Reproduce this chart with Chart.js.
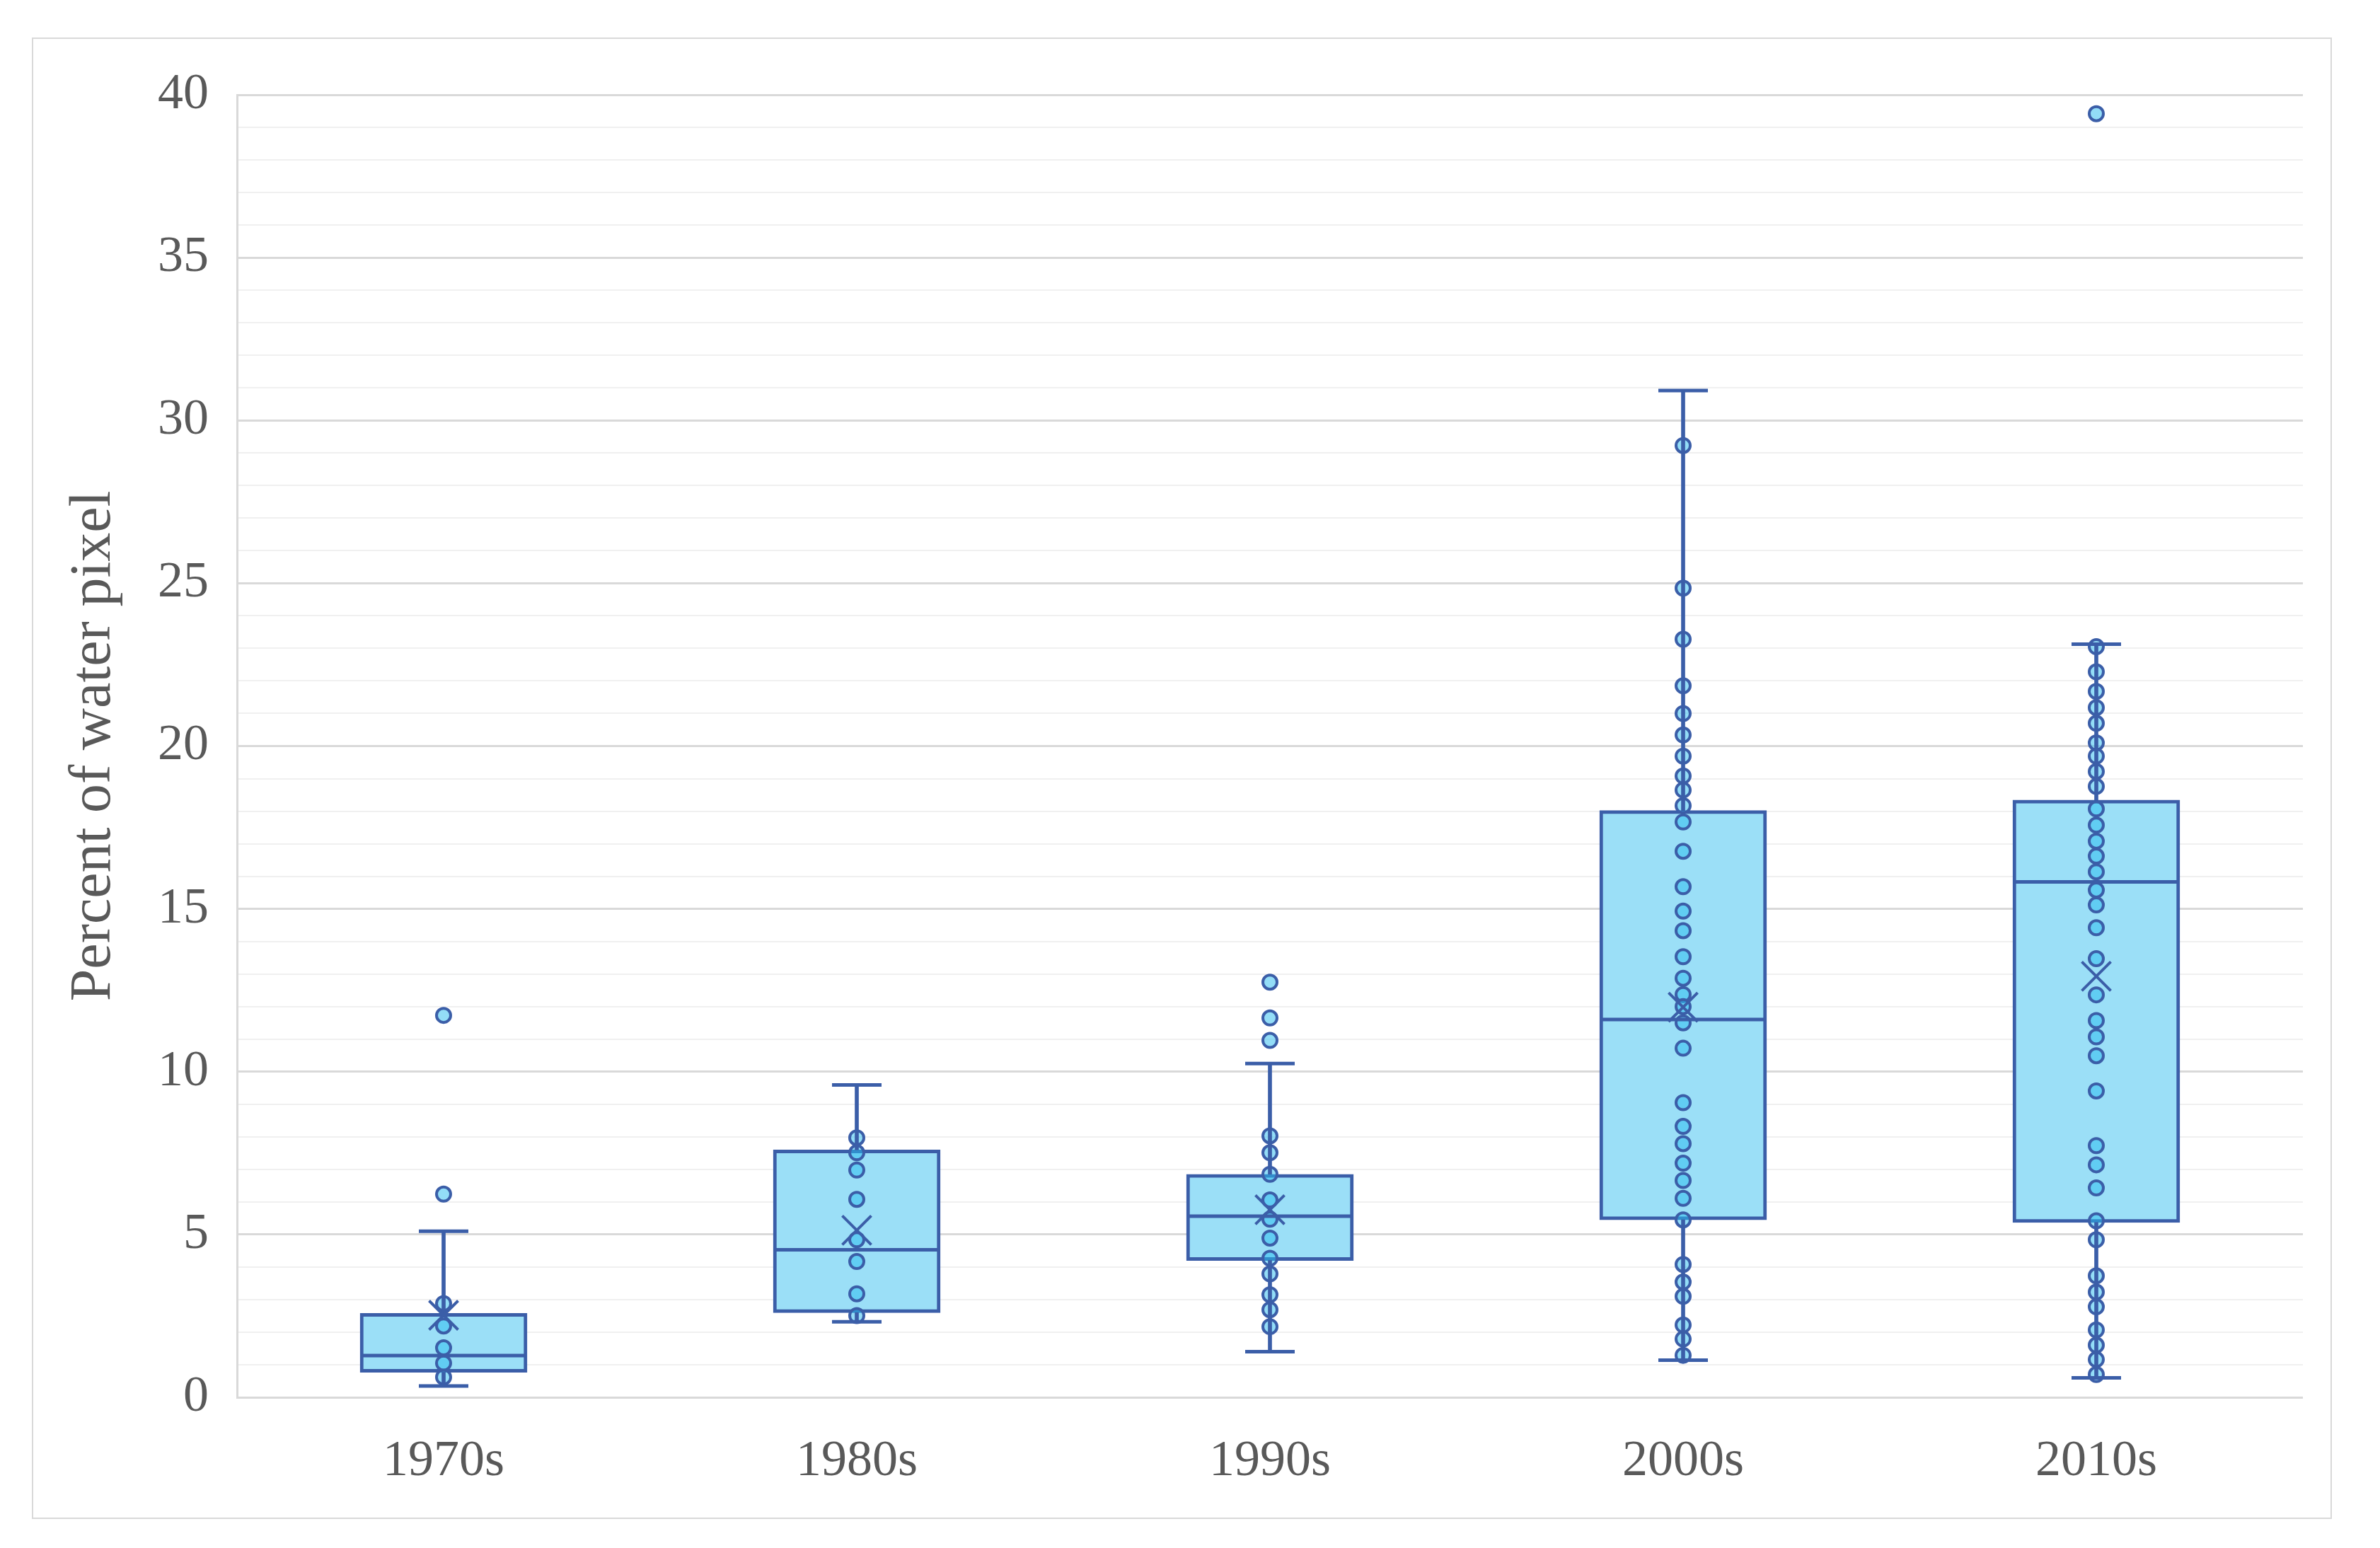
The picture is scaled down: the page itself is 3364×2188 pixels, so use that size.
<!DOCTYPE html>
<html>
<head>
<meta charset="utf-8">
<script src="https://cdn.jsdelivr.net/npm/chart.js@4.4.1/dist/chart.umd.min.js"></script>
<style>
  html, body { margin: 0; padding: 0; background: #ffffff; }
  #wrap { position: relative; width: 3364px; height: 2188px; }
  #frame { position: absolute; left: 45px; top: 53px; width: 3247px; height: 2090px; border: 2px solid #d9d9d9; pointer-events: none; }
  canvas { position: absolute; left: 0; top: 0; }
</style>
</head>
<body>
<div id="wrap">
  <canvas id="c" width="3364" height="2188"></canvas>
  <div id="frame"></div>
</div>
<script>
// ---- data ----
const categories = ['1970s', '1980s', '1990s', '2000s', '2010s'];
const whiskerMin = [0.35, 2.32, 1.40, 1.14, 0.60];
const quartile1  = [0.77, 2.60, 4.20, 5.45, 5.37];
const medians    = [1.28, 4.53, 5.56, 11.60, 15.83];
const quartile3  = [2.58, 7.60, 6.85, 18.02, 18.34];
const whiskerMax = [5.10, 9.59, 10.25, 30.92, 23.13];
const means      = [2.52, 5.13, 5.76, 11.98, 12.93];

const points1970s = [11.73, 6.24, 2.88, 2.19, 1.52, 1.05, 0.62];
const points1980s = [7.97, 7.51, 6.98, 6.08, 4.84, 4.17, 3.18, 2.51];
const points1990s = [12.75, 11.65, 10.96, 8.03, 7.51, 6.85, 6.06, 5.47, 4.89, 4.27, 3.79, 3.15, 2.69, 2.17];
const points2000s = [29.23, 24.85, 23.28, 21.85, 21.00, 20.34, 19.69, 19.08, 18.65, 18.17, 17.67, 16.77, 15.68,
                     14.93, 14.33, 13.53, 12.87, 12.37, 12.00, 11.50, 10.72, 9.05, 8.32, 7.79, 7.19, 6.66, 6.11,
                     5.45, 4.08, 3.54, 3.10, 2.22, 1.79, 1.29];
const points2010s = [39.42, 23.05, 22.28, 21.68, 21.18, 20.70, 20.10, 19.69, 19.22, 18.76, 18.07, 17.57, 17.08,
                     16.62, 16.14, 15.58, 15.12, 14.42, 13.47, 12.36, 11.57, 11.07, 10.49, 9.41, 7.73, 7.14,
                     6.43, 5.42, 4.84, 3.73, 3.23, 2.78, 2.07, 1.60, 1.16, 0.70];
const pointsByCategory = [points1970s, points1980s, points1990s, points2000s, points2010s];

const yTickMin = 0, yTickMax = 40, yMajorStep = 5;
const yTitle = 'Percent of water pixel';

// ---- styles ----
const dark = '#3b5ea8';
const boxFill = 'rgb(155,223,247)';
const pointFill = 'rgba(40,188,240,0.5)';
const textColor = '#595959';
const fontFamily = '"Liberation Serif", "Times New Roman", serif';

const scatterPoints = [];
pointsByCategory.forEach((arr, i) => arr.forEach(v => scatterPoints.push({ x: categories[i], y: v })));
const capPoints = [];
categories.forEach((c, i) => { capPoints.push({ x: c, y: whiskerMin[i] }); capPoints.push({ x: c, y: whiskerMax[i] }); });

new Chart(document.getElementById('c'), {
  type: 'bar',
  data: {
    labels: categories,
    datasets: [
      {
        type: 'bar', label: 'box', order: 10, grouped: false,
        data: categories.map((c, i) => [quartile1[i], quartile3[i]]),
        backgroundColor: boxFill, borderColor: dark, borderWidth: 5, borderSkipped: false,
        barThickness: 236
      },
      {
        type: 'line', label: 'points', order: 8, showLine: false,
        data: scatterPoints,
        pointStyle: 'circle', pointRadius: 10, pointBorderWidth: 4,
        pointBackgroundColor: pointFill, pointBorderColor: dark
      },
      {
        type: 'bar', label: 'lower whisker', order: 6, grouped: false,
        data: categories.map((c, i) => [whiskerMin[i], quartile1[i]]),
        backgroundColor: dark, borderWidth: 0, barThickness: 5
      },
      {
        type: 'bar', label: 'upper whisker', order: 6, grouped: false,
        data: categories.map((c, i) => [quartile3[i], whiskerMax[i]]),
        backgroundColor: dark, borderWidth: 0, barThickness: 5
      },
      {
        type: 'line', label: 'caps', order: 5, showLine: false,
        data: capPoints,
        pointStyle: 'line', pointRadius: 35, pointBorderWidth: 5, pointBorderColor: dark
      },
      {
        type: 'line', label: 'median', order: 4, showLine: false,
        data: categories.map((c, i) => ({ x: c, y: medians[i] })),
        pointStyle: 'line', pointRadius: 116, pointBorderWidth: 5, pointBorderColor: dark
      },
      {
        type: 'line', label: 'mean', order: 2, showLine: false,
        data: categories.map((c, i) => ({ x: c, y: means[i] })),
        pointStyle: 'crossRot', pointRadius: 29, pointBorderWidth: 4, pointBorderColor: dark
      }
    ]
  },
  options: {
    responsive: false,
    animation: false,
    events: [],
    layout: { autoPadding: false, padding: { left: 0, top: 134, right: 109, bottom: 63 } },
    plugins: { legend: { display: false }, tooltip: { enabled: false } },
    scales: {
      x: {
        type: 'category',
        offset: true,
        grid: { display: false, drawTicks: false },
        border: { display: false },
        ticks: { color: textColor, font: { family: fontFamily, size: 72 }, padding: 48 },
        afterFit: s => { s.height = 150; s.paddingLeft = 0; s.paddingRight = 0; }
      },
      y: {
        type: 'linear',
        min: yTickMin, max: yTickMax,
        ticks: {
          stepSize: 1,
          autoSkip: false,
          padding: 40,
          color: textColor,
          font: { family: fontFamily, size: 72 },
          callback: v => (v % yMajorStep === 0 ? String(v) : '')
        },
        grid: {
          drawTicks: false,
          color: ctx => (ctx.tick && ctx.tick.value % yMajorStep === 0 ? '#d9d9d9' : '#f0f0f0'),
          lineWidth: ctx => (ctx.tick && ctx.tick.value % yMajorStep === 0 ? 3 : 2)
        },
        border: { display: true, color: '#d9d9d9', width: 3 },
        title: {
          display: true, text: yTitle, color: textColor,
          font: { family: fontFamily, size: 82 },
          padding: { top: 84, bottom: 0 }
        },
        afterFit: s => { s.width = 335; }
      }
    }
  }
});
</script>
</body>
</html>
